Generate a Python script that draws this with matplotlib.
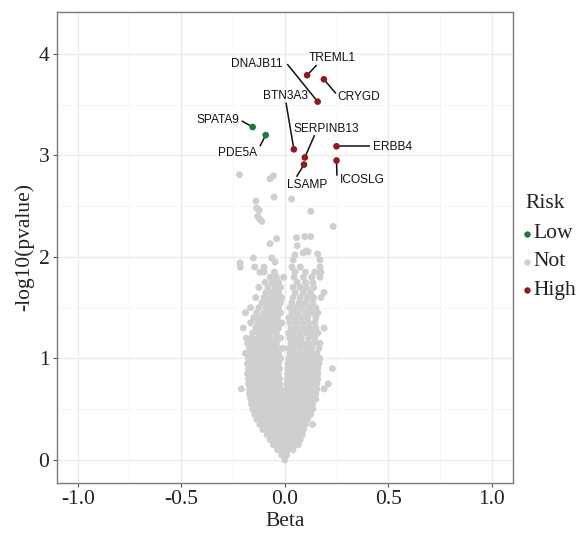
import matplotlib
matplotlib.use("Agg")
import matplotlib.pyplot as plt
from matplotlib.lines import Line2D

# ---------------- data ----------------
genes = ["TREML1", "CRYGD", "DNAJB11", "SPATA9", "PDE5A", "BTN3A3",
         "ERBB4", "SERPINB13", "LSAMP", "ICOSLG"]
gene_beta = [0.108, 0.189, 0.159, -0.155, -0.092, 0.044, 0.250, 0.097, 0.093, 0.250]
gene_logp = [3.79, 3.75, 3.53, 3.28, 3.20, 3.06, 3.09, 2.98, 2.91, 2.95]
gene_risk = ["High", "High", "High", "Low", "Low", "High", "High", "High", "High", "High"]

# label text positions (data coords) and segment end points
label_x = [0.229, 0.358, -0.135, -0.323, -0.229, 0.002, 0.521, 0.202, 0.108, 0.375]
label_y = [3.96, 3.58, 3.90, 3.35, 3.02, 3.59, 3.08, 3.26, 2.71, 2.76]
seg_x = [0.154, 0.247, 0.012, -0.208, -0.120, 0.006, 0.410, 0.144, 0.057, 0.252]
seg_y = [3.89, 3.61, 3.90, 3.34, 3.09, 3.52, 3.09, 3.20, 2.79, 2.80]

# non-significant ("Not") genes, read row by row: (logp, [beta values])
not_rows = [
    (0.00, [0.0]),
    (0.05, [-0.015, 0.01]),
    (0.10, [-0.035, -0.01, 0.015, 0.04]),
    (0.15, [-0.055, -0.03, -0.005, 0.02, 0.045, 0.065]),
    (0.20, [-0.07, -0.045, -0.02, 0.005, 0.03, 0.055, 0.075]),
    (0.25, [-0.085, -0.06, -0.035, -0.01, 0.015, 0.04, 0.065, 0.085]),
    (0.30, [-0.105, -0.08, -0.055, -0.03, -0.005, 0.02, 0.045, 0.07, 0.09]),
    (0.35, [-0.12, -0.095, -0.07, -0.045, -0.02, 0.005, 0.03, 0.055, 0.08, 0.1, 0.135]),
    (0.40, [-0.135, -0.11, -0.085, -0.06, -0.035, -0.01, 0.015, 0.04, 0.065, 0.09, 0.11]),
    (0.45, [-0.145, -0.12, -0.095, -0.07, -0.045, -0.02, 0.005, 0.03, 0.055, 0.08, 0.105, 0.125]),
    (0.50, [-0.155, -0.13, -0.105, -0.08, -0.055, -0.03, -0.005, 0.02, 0.045, 0.07, 0.095, 0.12, 0.135]),
    (0.55, [-0.16, -0.135, -0.11, -0.085, -0.06, -0.035, -0.01, 0.015, 0.04, 0.065, 0.09, 0.115, 0.135]),
    (0.60, [-0.165, -0.14, -0.115, -0.09, -0.065, -0.04, -0.015, 0.01, 0.035, 0.06, 0.085, 0.11, 0.135, 0.15]),
    (0.65, [-0.17, -0.145, -0.12, -0.095, -0.07, -0.045, -0.02, 0.005, 0.03, 0.055, 0.08, 0.105, 0.13, 0.15]),
    (0.70, [-0.21, -0.17, -0.145, -0.12, -0.095, -0.07, -0.045, -0.02, 0.01, 0.035, 0.06, 0.085, 0.11, 0.135, 0.155, 0.19]),
    (0.75, [-0.175, -0.15, -0.125, -0.1, -0.075, -0.05, -0.025, 0.01, 0.035, 0.06, 0.085, 0.11, 0.135, 0.155, 0.21]),
    (0.80, [-0.175, -0.15, -0.125, -0.1, -0.075, -0.05, -0.025, 0.012, 0.037, 0.062, 0.087, 0.112, 0.137, 0.16]),
    (0.85, [-0.18, -0.155, -0.13, -0.105, -0.08, -0.055, -0.03, 0.014, 0.04, 0.065, 0.09, 0.115, 0.14, 0.16]),
    (0.90, [-0.175, -0.15, -0.125, -0.1, -0.075, -0.05, -0.025, 0.015, 0.04, 0.065, 0.09, 0.115, 0.14, 0.16, 0.23]),
    (0.95, [-0.18, -0.155, -0.13, -0.105, -0.08, -0.055, -0.03, 0.015, 0.04, 0.065, 0.09, 0.115, 0.14, 0.165]),
    (1.00, [-0.175, -0.15, -0.12, -0.095, -0.07, -0.045, -0.02, 0.02, 0.045, 0.07, 0.095, 0.12, 0.145, 0.17]),
    (1.05, [-0.19, -0.16, -0.135, -0.11, -0.08, -0.055, -0.03, 0.025, 0.05, 0.075, 0.1, 0.13, 0.155]),
    (1.10, [-0.17, -0.14, -0.115, -0.09, -0.06, -0.035, -0.01, 0.02, 0.045, 0.075, 0.105, 0.13, 0.165]),
    (1.15, [-0.18, -0.15, -0.12, -0.09, -0.065, -0.04, 0.03, 0.06, 0.085, 0.11, 0.14, 0.17]),
    (1.20, [-0.185, -0.16, -0.13, -0.1, -0.075, -0.045, -0.02, 0.025, 0.05, 0.08, 0.115, 0.145]),
    (1.25, [-0.155, -0.125, -0.095, -0.07, -0.04, 0.02, 0.05, 0.075, 0.105, 0.13, 0.16]),
    (1.30, [-0.2, -0.14, -0.11, -0.085, -0.06, -0.03, 0.03, 0.06, 0.09, 0.12, 0.15, 0.19]),
    (1.35, [-0.165, -0.13, -0.1, -0.075, -0.045, -0.015, 0.025, 0.055, 0.085, 0.115, 0.145]),
    (1.40, [-0.15, -0.12, -0.09, -0.06, -0.035, 0.02, 0.05, 0.08, 0.11, 0.15]),
    (1.45, [-0.19, -0.135, -0.1, -0.07, -0.045, -0.02, 0.035, 0.065, 0.1, 0.13, 0.16]),
    (1.50, [-0.165, -0.125, -0.09, -0.06, -0.03, 0.025, 0.055, 0.085, 0.12, 0.15]),
    (1.55, [-0.11, -0.08, -0.05, -0.02, 0.035, 0.07, 0.1, 0.135]),
    (1.60, [-0.14, -0.1, -0.07, -0.04, -0.015, 0.04, 0.075, 0.11, 0.14, 0.175]),
    (1.65, [-0.09, -0.06, -0.03, 0.05, 0.09, 0.125, 0.19]),
    (1.70, [-0.125, -0.08, -0.045, -0.02, 0.04, 0.075, 0.105, 0.14]),
    (1.75, [-0.095, -0.06, -0.03, 0.06, 0.1, 0.135]),
    (1.80, [-0.07, -0.04, -0.005, 0.045, 0.09, 0.13, 0.17]),
    (1.85, [-0.12, -0.1, -0.05, 0.05, 0.1, 0.145, 0.175]),
    (1.90, [-0.215, -0.145, -0.1, 0.035, 0.075, 0.17]),
]
# sparse non-significant genes above the main cloud
not_top_beta = [-0.219, -0.071, -0.055, -0.051, 0.033, -0.139, -0.135, -0.124, -0.131,
                -0.120, -0.111, 0.126, 0.234, -0.039, -0.071, 0.057, 0.097, 0.125,
                0.060, 0.089, 0.105, 0.113, 0.049, 0.041, 0.159, 0.170, -0.152,
                -0.216, -0.063, -0.047]
not_top_logp = [2.81, 2.77, 2.80, 2.59, 2.57, 2.55, 2.48, 2.46, 2.40,
                2.37, 2.35, 2.45, 2.30, 2.18, 2.13, 2.19, 2.20, 2.20,
                2.11, 2.04, 2.06, 2.05, 2.02, 1.97, 2.03, 1.97, 1.99,
                1.94, 1.99, 1.95]

x_ticks = [-1.0, -0.5, 0.0, 0.5, 1.0]
x_ticklabels = ["-1.0", "-0.5", "0.0", "0.5", "1.0"]
y_ticks = [0, 1, 2, 3, 4]
legend_labels = ["Low", "Not", "High"]

# ---------------- style ----------------
colors = {"Low": "#1C7A35", "Not": "#CFCFCF", "High": "#8E1B1E"}
serif = ["Liberation Serif", "DejaVu Serif"]
sans = ["Liberation Sans", "DejaVu Sans"]
fs = 15.5

W, H = 583, 535
fig = plt.figure(figsize=(W / 100, H / 100), dpi=100)
L, R, T, B = 57, 512.5, 12.3, 482.7
ax = fig.add_axes([L / W, 1 - B / H, (R - L) / W, (B - T) / H])

ax.set_xlim(-1.1, 1.1)
ax.set_ylim(-0.224, 4.41)

# grid
ax.set_xticks(x_ticks)
ax.set_xticks([-0.75, -0.25, 0.25, 0.75], minor=True)
ax.set_yticks(y_ticks)
ax.set_yticks([0.5, 1.5, 2.5, 3.5], minor=True)
ax.grid(True, which="major", color="#EBEBEB", linewidth=1.0, zorder=0)
ax.grid(True, which="minor", color="#F4F4F4", linewidth=0.6, zorder=0)
ax.set_axisbelow(True)
ax.tick_params(which="minor", length=0)
ax.tick_params(which="major", length=3, width=0.8, color="#555555", pad=2.5,
               labelsize=fs, labelcolor="#222222")
ax.set_xticklabels(x_ticklabels, fontfamily=serif)
for lab in ax.get_yticklabels():
    lab.set_fontfamily(serif)
for sp in ax.spines.values():
    sp.set_color("#7A7A7A")
    sp.set_linewidth(1.0)

# not-significant cloud
nx, ny = [], []
for yv, xs in not_rows:
    for xv in xs:
        nx.append(xv)
        ny.append(yv)
nx += not_top_beta
ny += not_top_logp
ax.scatter(nx, ny, s=25, color=colors["Not"], edgecolors="none", zorder=2)

# label segments
for i in range(len(genes)):
    ax.plot([gene_beta[i], seg_x[i]], [gene_logp[i], seg_y[i]], color="#111111",
            linewidth=1.1, zorder=3, solid_capstyle="butt")

# significant genes
for i in range(len(genes)):
    ax.scatter([gene_beta[i]], [gene_logp[i]], s=23, color=colors[gene_risk[i]],
               edgecolors="none", zorder=4)

# labels
for i, g in enumerate(genes):
    ax.text(label_x[i], label_y[i], g, fontsize=8.6, fontfamily=sans,
            ha="center", va="center", color="#111111", zorder=5)

ax.set_xlabel("Beta", fontsize=fs, fontfamily=serif, color="#222222", labelpad=2)
ax.set_ylabel("-log10(pvalue)", fontsize=fs, fontfamily=serif, color="#222222", labelpad=3)

# legend (manual)
fig.text(525 / W, 1 - 203 / H, "Risk", fontsize=fs, fontfamily=serif,
         ha="left", va="center", color="#222222")
leg_y = [234, 262, 290]
for lbl, yy in zip(legend_labels, leg_y):
    fig.add_artist(Line2D([527 / W], [1 - yy / H], marker="o", markersize=3.6,
                          color=colors[lbl], linestyle="none",
                          transform=fig.transFigure))
    fig.text(533 / W, 1 - yy / H, lbl, fontsize=fs, fontfamily=serif,
             ha="left", va="center", color="#222222")

fig.savefig("out.png", dpi=100, facecolor="white")
